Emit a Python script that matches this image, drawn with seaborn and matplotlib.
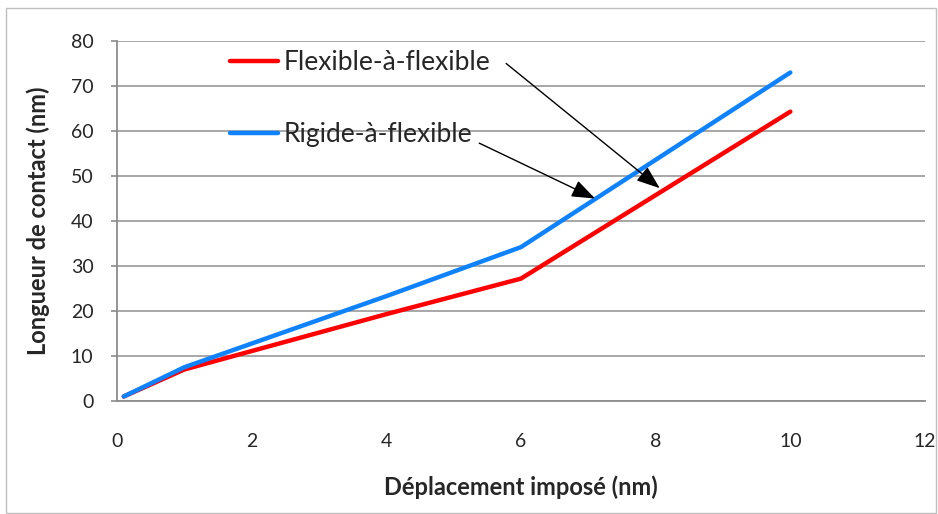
import matplotlib
matplotlib.use("Agg")
import matplotlib.pyplot as plt
import seaborn as sns
import pandas as pd
from matplotlib.patches import Rectangle
from matplotlib.lines import Line2D

# Data
deplacement = [0.1, 1, 4, 6, 10]
flexible_flexible = [1, 7, 19.3, 27.2, 64.3]
rigide_flexible = [1, 7.5, 23.3, 34.2, 73]
series_names = ["Flexible-à-flexible", "Rigide-à-flexible"]
x_ticks = [0, 2, 4, 6, 8, 10, 12]
y_ticks = [0, 10, 20, 30, 40, 50, 60, 70, 80]

df = pd.DataFrame({
    "x": deplacement * 2,
    "y": flexible_flexible + rigide_flexible,
    "serie": [series_names[0]] * len(deplacement) + [series_names[1]] * len(deplacement),
})

sns.set_theme(style="white")
plt.rcParams["font.family"] = ["Lato", "DejaVu Sans"]

fig = plt.figure(figsize=(9.38, 5.14), dpi=100)
ax = fig.add_axes([117 / 938, 1 - 401 / 514, 808 / 938, 360 / 514])

palette = {series_names[0]: "#FF0000", series_names[1]: "#0F82FF"}
sns.lineplot(data=df, x="x", y="y", hue="serie", palette=palette, ax=ax,
             linewidth=3.2, sort=False, legend=False)

ax.set_xlim(0, 12)
ax.set_ylim(0, 80)
ax.set_xticks(x_ticks)
ax.set_yticks(y_ticks)
ax.set_xticklabels([str(t) for t in x_ticks], fontsize=14)
ax.set_yticklabels([str(t) for t in y_ticks], fontsize=14)
ax.tick_params(axis="x", length=0, pad=23)
ax.tick_params(axis="y", length=4, width=1.2, color="#8C8C8C", pad=13, direction="out", left=True)

ax.grid(axis="y", color="#A0A0A0", linewidth=1.3)
ax.grid(axis="x", visible=False)
for s in ["top", "right"]:
    ax.spines[s].set_visible(False)
for s in ["left", "bottom"]:
    ax.spines[s].set_color("#8C8C8C")
    ax.spines[s].set_linewidth(1.3)

ax.set_xlabel("Déplacement imposé (nm)", fontsize=17, fontweight="bold", labelpad=18)
ax.set_ylabel("Longueur de contact (nm)", fontsize=17, fontweight="bold", labelpad=15)

handles = [Line2D([0], [0], color=palette[n], linewidth=3.2, solid_capstyle="round") for n in series_names]
ax.legend(handles, series_names, loc="center left", bbox_to_anchor=(0.14, 0.84),
          frameon=False, fontsize=19, handlelength=1.82, handletextpad=0.2,
          labelspacing=1.8, borderpad=0, borderaxespad=0)

arrowprops = dict(arrowstyle="-|>,head_length=1.2,head_width=0.45", color="black", lw=1.0, shrinkA=0, shrinkB=0)
ax.annotate("", xy=(8.06, 47.3), xytext=(5.78, 75.0), arrowprops=arrowprops)
ax.annotate("", xy=(7.10, 45.0), xytext=(5.38, 57.3), arrowprops=arrowprops)

fig.patches.append(Rectangle((6 / 938, 1 - 513 / 514), 930 / 938, 505 / 514,
                             transform=fig.transFigure, fill=False,
                             edgecolor="#BFBFBF", linewidth=1.0))

fig.savefig("out.png", dpi=100)
